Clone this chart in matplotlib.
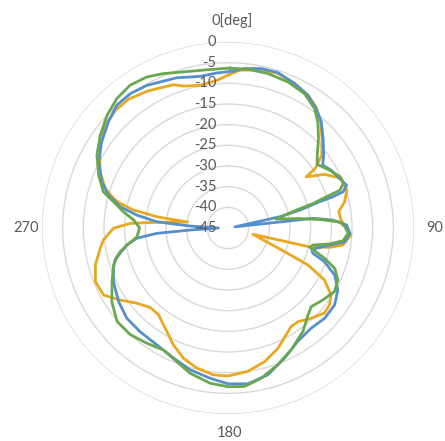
import numpy as np
import matplotlib
matplotlib.use("Agg")
import matplotlib.pyplot as plt
from matplotlib.transforms import offset_copy

plt.rcParams['font.family'] = ['Lato', 'DejaVu Sans']

# radiation pattern, angle in degrees (clockwise from top), level in dB
gold_ang = [0.7, 4.3, 7.2, 11.8, 17.9, 24.7, 31.0, 36.1, 41.1, 46.4, 52.2, 55.6, 56.8, 60.9,
            66.3, 72.3, 77.3, 81.6, 86.0, 90.1, 93.3, 98.4, 100.7, 103.0, 104.1, 112.7, 114.8,
            118.3, 123.0, 127.1, 131.4, 137.3, 143.2, 147.3, 151.4, 157.4, 164.6, 172.1, 180.0,
            185.7, 192.6, 198.9, 205.1, 212.1, 218.7, 224.4, 230.5, 236.3, 241.7, 248.0, 254.5,
            261.0, 264.5, 269.9, 272.7, 274.6, 278.4, 279.0, 280.8, 282.9, 284.5, 287.9, 293.7,
            299.4, 305.0, 310.8, 316.2, 322.3, 329.8, 339.2, 342.5, 348.9, 355.6]
gold_db = [-7.8, -6.7, -6.5, -5.8, -5.7, -6.5, -7.5, -8.8, -10.9, -13.6, -16.3, -19.4, -22.4, -18.3,
           -15.1, -14.8, -16.1, -17.9, -17.6, -16.2, -15.2, -16.9, -19.9, -24.3, -38.8, -30.1, -23.7,
           -18.5, -15.3, -14.2, -13.9, -15.3, -16.7, -16.7, -15.6, -13.5, -11.5, -10.0, -9.2,
           -9.3, -10.3, -11.7, -13.8, -16.4, -18.1, -18.1, -16.4, -13.6, -10.8, -10.4, -11.7,
           -13.7, -14.7, -17.3, -21.3, -27.7, -35.1, -27.6, -21.7, -18.2, -16.4, -13.8, -11.2,
           -9.4, -7.2, -6.2, -5.6, -5.6, -6.6, -7.9, -9.0, -9.8, -9.2]

blue_ang = [1.9, 6.0, 11.8, 17.8, 24.7, 31.0, 36.4, 41.3, 46.7, 52.7, 56.4, 60.7, 65.0, 70.1,
            72.5, 73.4, 74.0, 76.0, 77.7, 80.5, 83.5, 85.7, 88.6, 92.5, 96.7, 99.5, 104.3, 106.6,
            109.2, 113.8, 119.4, 125.8, 133.0, 140.3, 148.4, 156.5, 164.8, 172.7, 180.0, 186.8,
            195.0, 202.8, 211.4, 220.3, 228.3, 236.1, 244.9, 250.6, 254.2, 256.8, 260.5, 263.6,
            265.7, 267.0, 270.0, 273.0, 275.0, 278.1, 281.2, 285.4, 290.1, 297.3, 304.3, 311.6,
            317.9, 324.0, 330.4, 337.5, 341.2, 349.6, 355.8]
blue_db = [-7.0, -6.2, -5.6, -5.5, -6.5, -7.5, -9.1, -10.8, -13.4, -15.9, -17.5, -16.4, -15.7, -14.5,
           -15.8, -18.5, -21.9, -27.1, -32.1, -43.3, -24.3, -19.5, -16.3, -15.5, -16.5, -20.0, -24.1, -23.6,
           -20.3, -16.8, -14.5, -13.2, -13.0, -13.5, -12.8, -10.7, -8.2, -7.0, -7.3, -8.4,
           -9.5, -10.9, -11.9, -12.1, -12.2, -13.1, -14.4, -15.6, -16.6, -18.2, -20.2, -22.8,
           -27.7, -35.8, -42.7, -35.8, -27.7, -22.7, -18.4, -15.0, -12.5, -9.8, -8.0, -6.3,
           -4.9, -4.8, -5.3, -6.3, -6.6, -7.7, -7.4]

green_ang = [0.7, 7.6, 14.5, 22.3, 29.7, 35.9, 40.3, 45.3, 50.7, 54.5, 60.4, 65.4, 68.8, 71.3,
             72.1, 73.9, 75.3, 79.4, 82.5, 84.7, 86.9, 89.4, 92.5, 96.3, 98.9, 101.3, 103.2, 107.4,
             110.7, 115.3, 120.8, 127.2, 133.4, 137.4, 144.1, 152.6, 160.0, 167.5, 174.0, 180.0,
             186.6, 194.7, 201.0, 207.9, 215.2, 222.5, 229.9, 237.6, 245.2, 252.1, 255.5, 257.6,
             260.5, 262.8, 264.6, 267.6, 270.2, 274.8, 278.8, 282.9, 286.2, 292.2, 299.1, 306.0,
             313.0, 319.4, 325.6, 331.7, 337.3, 344.0, 353.5]
green_db = [-6.3, -6.3, -6.4, -6.8, -7.6, -9.3, -11.4, -14.2, -17.1, -18.5, -16.7, -15.2, -15.1, -16.4,
            -19.1, -23.6, -27.9, -33.2, -27.5, -22.7, -17.9, -16.7, -15.9, -17.0, -20.1, -24.0, -24.7, -20.5,
            -17.4, -15.6, -15.0, -16.2, -17.3, -16.4, -14.1, -11.8, -9.8, -7.8, -6.45, -6.6,
            -7.2, -8.7, -10.4, -11.6, -10.9, -10.0, -9.9, -11.7, -14.1, -15.9, -17.2, -18.3,
            -20.2, -21.9, -22.9, -23.3, -23.6, -22.1, -19.4, -16.6, -13.6, -11.2, -8.7, -6.8,
            -5.0, -3.7, -3.1, -3.5, -4.5, -5.7, -6.4]

rings = [0, -5, -10, -15, -20, -25, -30, -35, -40, -45]
dir_labels = ['0[deg]', '90', '180', '270']

series = [
    (gold_ang, gold_db, '#E9A820'),
    (blue_ang, blue_db, '#5590CC'),
    (green_ang, green_db, '#6AA84F'),
]

fig = plt.figure(figsize=(4.45, 4.41), dpi=100)
ax = fig.add_axes([0.0944, 0.0612, 0.836, 0.8435], projection='polar')
ax.set_theta_zero_location('N')
ax.set_theta_direction(-1)

for ang, db, col in series:
    th = np.deg2rad(ang + ang[:1])
    ax.plot(th, db + db[:1], color=col, lw=2.0, solid_joinstyle='round')

ax.set_ylim(-45, 0)
ax.set_yticks(rings)
ax.set_yticklabels([])
ax.yaxis.grid(True, color='#d9d9d9', lw=1.0)
ax.xaxis.grid(False)
ax.set_xticks([])
ax.spines['polar'].set_visible(False)

# direction labels around the outer ring (axes fraction, centre = 0.5, 0.5)
dir_pos = [(0.511, 1.059), (1.056, 0.5), (0.505, -0.051), (-0.044, 0.5)]
for (px, py), txt in zip(dir_pos, dir_labels):
    ax.text(px, py, txt, transform=ax.transAxes, ha='center', va='center',
            color='#595959', fontsize=10.5, clip_on=False)

# radial value labels, left of the vertical axis
lab_tr = offset_copy(ax.transData, fig=fig, x=-8.5, y=0, units='points')
for v in rings:
    ax.text(0, v, str(v), transform=lab_tr, ha='right', va='center',
            color='#595959', fontsize=10.5, clip_on=False)

fig.savefig('out.png', dpi=100)
